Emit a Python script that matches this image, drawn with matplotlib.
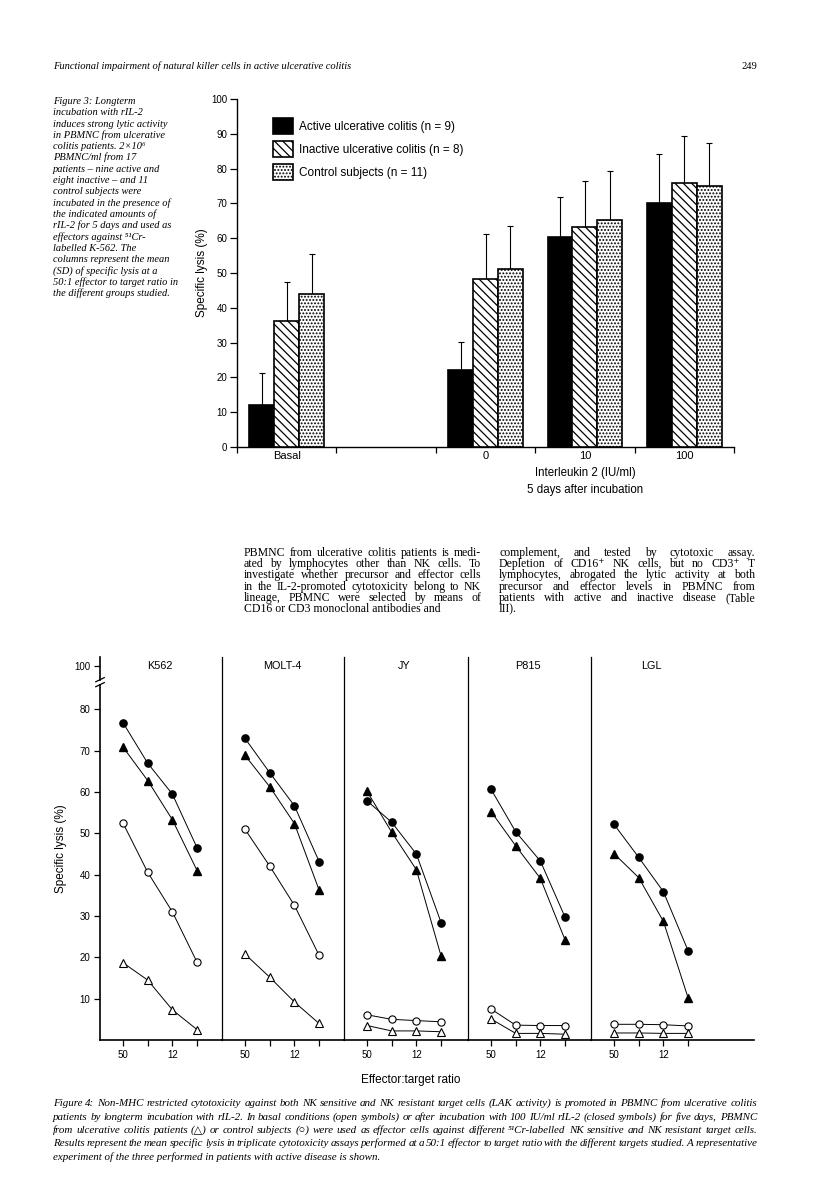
import matplotlib
matplotlib.use('Agg')
import matplotlib.pyplot as plt
import numpy as np

W, H = 816, 1191
SANS = ['Liberation Sans', 'DejaVu Sans']
SERIF = ['Liberation Serif', 'DejaVu Serif', 'DejaVu Sans']

# ---- Figure 3 data ----
groups = ['Basal', '0', '10', '100']
active = [12.2, 22.1, 60.4, 70.2]
active_sd = [9.0, 8.1, 11.5, 14.0]
inactive = [36.2, 48.2, 63.1, 75.9]
inactive_sd = [11.1, 13.1, 13.3, 13.6]
control = [44.1, 51.2, 65.1, 75.0]
control_sd = [11.3, 12.3, 14.3, 12.3]
series_names = ['Active ulcerative colitis (n = 9)',
                'Inactive ulcerative colitis (n = 8)',
                'Control subjects (n = 11)']

# ---- Figure 4 data ----
targets = ['K562', 'MOLT-4', 'JY', 'P815', 'LGL']
ratio_labels = ['50', '', '12', '']
ctrl_il2 = [[76.8, 67.0, 59.5, 46.5], [73.0, 64.7, 56.7, 43.2],
            [57.9, 52.7, 45.0, 28.4], [60.7, 50.4, 43.3, 29.7],
            [52.2, 44.2, 35.9, 21.6]]
pat_il2 = [[70.9, 62.8, 53.3, 41.0], [68.9, 61.3, 52.4, 36.3],
           [60.2, 50.3, 41.2, 20.3], [55.3, 47.0, 39.1, 24.2],
           [45.1, 39.3, 28.7, 10.2]]
ctrl_basal = [[52.5, 40.6, 31.0, 18.8], [51.0, 42.1, 32.6, 20.5],
              [6.1, 5.0, 4.7, 4.4], [7.5, 3.6, 3.5, 3.5],
              [3.8, 3.8, 3.7, 3.4]]
pat_basal = [[18.7, 14.5, 7.3, 2.5], [20.8, 15.2, 9.2, 4.0],
             [3.5, 2.2, 2.2, 2.0], [5.1, 1.6, 1.6, 1.4],
             [1.7, 1.7, 1.6, 1.6]]

header = 'Functional impairment of natural killer cells in active ulcerative colitis'
fig3_caption = [
    'Figure 3: Longterm',
    'incubation with rIL-2',
    'induces strong lytic activity',
    'in PBMNC from ulcerative',
    'colitis patients. 2×10⁶',
    'PBMNC/ml from 17',
    'patients – nine active and',
    'eight inactive – and 11',
    'control subjects were',
    'incubated in the presence of',
    'the indicated amounts of',
    'rIL-2 for 5 days and used as',
    'effectors against ⁵¹Cr-',
    'labelled K-562. The',
    'columns represent the mean',
    '(SD) of specific lysis at a',
    '50:1 effector to target ratio in',
    'the different groups studied.',
]
body_left = [
    'PBMNC from ulcerative colitis patients is medi-',
    'ated by lymphocytes other than NK cells. To',
    'investigate whether precursor and effector cells',
    'in the IL-2-promoted cytotoxicity belong to NK',
    'lineage, PBMNC were selected by means of',
    'CD16 or CD3 monoclonal antibodies and',
]
body_right = [
    'complement, and tested by cytotoxic assay.',
    'Depletion of CD16⁺ NK cells, but no CD3⁺ T',
    'lymphocytes, abrogated the lytic activity at both',
    'precursor and effector levels in PBMNC from',
    'patients with active and inactive disease (Table',
    'III).',
]
fig4_caption = [
    'Figure 4: Non-MHC restricted cytotoxicity against both NK sensitive and NK resistant target cells (LAK activity) is promoted in PBMNC from ulcerative colitis',
    'patients by longterm incubation with rIL-2. In basal conditions (open symbols) or after incubation with 100 IU/ml rIL-2 (closed symbols) for five days, PBMNC',
    'from ulcerative colitis patients (△) or control subjects (○) were used as effector cells against different ⁵¹Cr-labelled NK sensitive and NK resistant target cells.',
    'Results represent the mean specific lysis in triplicate cytotoxicity assays performed at a 50:1 effector to target ratio with the different targets studied. A representative',
    'experiment of the three performed in patients with active disease is shown.',
]

plt.rcParams['font.family'] = SANS
plt.rcParams['hatch.linewidth'] = 0.9
fig = plt.figure(figsize=(W / 100, H / 100), dpi=100)


def fx(x):
    return x / W


def fy(y):
    return 1 - y / H


def justified(lines, x0, x1, y0, step, size, style='normal', ragged_last=True):
    r = fig.canvas.get_renderer()
    for i, line in enumerate(lines):
        y = fy(y0 + i * step)
        if ragged_last and i == len(lines) - 1:
            fig.text(fx(x0), y, line, fontsize=size, style=style,
                     family=SERIF, va='baseline')
            continue
        words = line.split(' ')
        texts = [fig.text(0, y, w, fontsize=size, style=style,
                          family=SERIF, va='baseline') for w in words]
        widths = [t.get_window_extent(r).width for t in texts]
        gap = (x1 - x0 - sum(widths)) / max(len(words) - 1, 1)
        x = x0
        for t, w in zip(texts, widths):
            t.set_x(fx(x))
            x += w + gap


# page header
fig.text(fx(53), fy(69), header, fontsize=7.6, style='italic', family=SERIF, va='baseline')
fig.text(fx(757), fy(69), '249', fontsize=7.6, family=SERIF, va='baseline', ha='right')

# figure 3 caption
for i, line in enumerate(fig3_caption):
    fig.text(fx(53), fy(104 + i * 11.3), line, fontsize=7.5, style='italic',
             family=SERIF, va='baseline')

# ---- Figure 3 ----
ax = fig.add_axes([fx(237), fy(447), (734 - 237) / W, (447 - 99) / H])
slots = np.array([0, 2, 3, 4]) + 0.5
bw = 0.25
styles = [dict(color='black', hatch=None),
          dict(color='white', hatch='\\\\\\\\'),
          dict(color='white', hatch='.....')]
for k, (vals, sd, st, name) in enumerate(zip([active, inactive, control],
                                             [active_sd, inactive_sd, control_sd],
                                             styles, series_names)):
    xs = slots + (k - 1) * bw
    ax.bar(xs, vals, width=bw, color=st['color'], hatch=st['hatch'],
           edgecolor='black', linewidth=1.2, label=name, zorder=3)
    ax.errorbar(xs, vals, yerr=[np.zeros(len(vals)), sd], fmt='none',
                ecolor='black', elinewidth=0.8, capsize=2.5, capthick=0.8, zorder=2)

ax.set_xlim(0, 5)
ax.set_ylim(0, 100)
ax.set_yticks(np.arange(0, 101, 10))
ax.set_xticks(slots)
ax.set_xticklabels(groups)
ax.set_xticks(np.arange(0, 6), minor=True)
ax.tick_params(axis='x', which='major', length=0, labelsize=8, pad=3)
ax.tick_params(axis='x', which='minor', length=4, width=0.9, direction='out')
ax.tick_params(axis='y', length=5, width=0.9, labelsize=7, pad=2)
for s in ['top', 'right']:
    ax.spines[s].set_visible(False)
for s in ['left', 'bottom']:
    ax.spines[s].set_linewidth(1.0)
ax.set_ylabel('Specific lysis (%)', fontsize=8.5, labelpad=2)
ax.legend(loc='upper left', bbox_to_anchor=(0.072, 0.945), frameon=False,
          fontsize=8.5, handlelength=1.75, handleheight=1.75, labelspacing=0.55,
          handletextpad=0.45, borderaxespad=0, borderpad=0)
fig.text(fx(585), fy(476), 'Interleukin 2 (IU/ml)', fontsize=8.3, ha='center', va='baseline')
fig.text(fx(585), fy(493), '5 days after incubation', fontsize=8.3, ha='center', va='baseline')

# body text
justified(body_left, 244, 481, 556, 11.2, 8.5)
justified(body_right, 499, 755, 556, 11.2, 8.5)

# ---- Figure 4 ----
widths = [122, 122, 124, 123, 163]
unit, off = 24.7, 23.0
ytop = 92.7
gs = fig.add_gridspec(1, 5, left=fx(100), right=fx(754), bottom=fy(1040),
                      top=fy(657), wspace=0, width_ratios=widths)
xs = np.arange(4)
for p, name in enumerate(targets):
    a = fig.add_subplot(gs[0, p])
    a.plot(xs, ctrl_il2[p], '-o', color='black', lw=0.7, ms=5.2, mfc='black')
    a.plot(xs, pat_il2[p], '-^', color='black', lw=0.7, ms=5.4, mfc='black')
    a.plot(xs, ctrl_basal[p], '-o', color='black', lw=0.7, ms=5.2, mfc='white', mew=0.8)
    a.plot(xs, pat_basal[p], '-^', color='black', lw=0.7, ms=5.4, mfc='white', mew=0.8)
    a.set_xlim(-off / unit, (widths[p] - off) / unit)
    a.set_ylim(0, ytop)
    a.set_xticks(xs)
    a.set_xticklabels(ratio_labels)
    a.tick_params(axis='x', length=4, width=0.9, labelsize=7, pad=3)
    a.text(1.5, 90.6, name, ha='center', va='center', fontsize=7.8)
    a.spines['top'].set_visible(False)
    a.spines['right'].set_visible(False)
    a.spines['bottom'].set_linewidth(1.2)
    a.spines['left'].set_linewidth(0.9)
    if p == 0:
        a.set_yticks(list(range(10, 81, 10)) + [90.6])
        a.set_yticklabels([str(v) for v in range(10, 81, 10)] + ['100'])
        a.tick_params(axis='y', length=4, width=0.9, labelsize=7, pad=3)
        a.set_ylabel('Specific lysis (%)', fontsize=8.5, labelpad=5)
        # broken axis
        a.spines['left'].set_bounds(0, 86.0)
        a.spines['left'].set_linewidth(1.2)
        tr = a.get_yaxis_transform()
        a.plot([0, 0], [87.2, ytop], color='black', lw=1.2, transform=tr, clip_on=False)
        for yb in (86.0, 87.2):
            a.plot([-0.035, 0.035], [yb - 0.5, yb + 0.5], color='black', lw=0.9,
                   transform=tr, clip_on=False)
    else:
        a.tick_params(axis='y', left=False, labelleft=False)

fig.text(fx(411), fy(1083), 'Effector:target ratio', fontsize=8.5, ha='center', va='baseline')

justified(fig4_caption, 53, 757, 1106, 13.5, 7.9, style='italic')

fig.savefig('out.png', dpi=100)
